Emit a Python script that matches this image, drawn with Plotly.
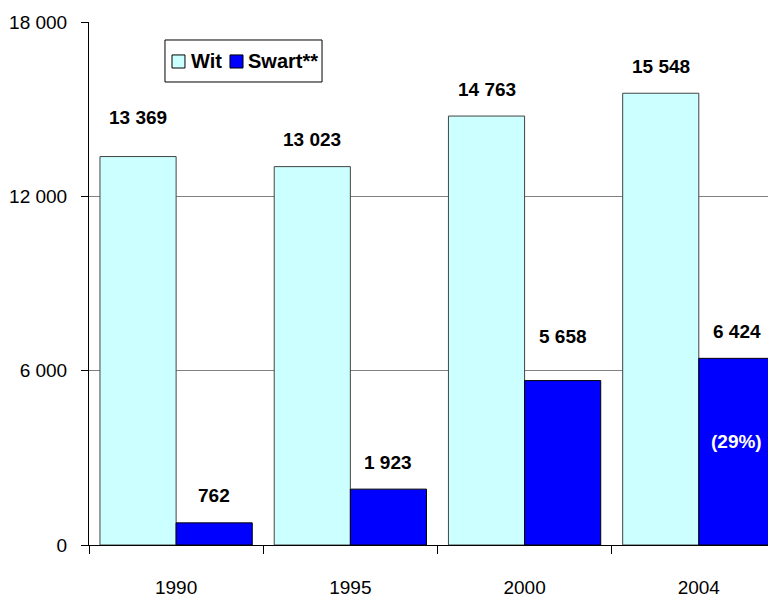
import plotly.graph_objects as go

years = ["1990", "1995", "2000", "2004"]
wit = [13369, 13023, 14763, 15548]
swart = [762, 1923, 5658, 6424]
wit_labels = ["13 369", "13 023", "14 763", "15 548"]
swart_labels = ["762", "1 923", "5 658", "6 424"]
share_note = "(29%)"
y_ticks = [0, 6000, 12000, 18000]
y_tick_labels = ["0", "6 000", "12 000", "18 000"]
series_names = ["Wit", "Swart**"]

FONT = "Liberation Sans, Arial, sans-serif"
BARGAP = 0.126
WIT_COLOR = "#CCFFFF"
SWART_COLOR = "#0000FF"
# extra lift (px) for the few labels that sit higher in the original
extra_lift = {(0, 0): 12, (1, 2): 17}

fig = go.Figure()
fig.add_trace(go.Bar(x=years, y=wit, name=series_names[0], showlegend=False,
                     marker=dict(color=WIT_COLOR, line=dict(color="#444444", width=1))))
fig.add_trace(go.Bar(x=years, y=swart, name=series_names[1], showlegend=False,
                     marker=dict(color=SWART_COLOR, line=dict(color="#000000", width=1))))

half = (1 - BARGAP) / 4
lab_font = dict(family=FONT, size=19, color="black", weight="bold")
leg_font = dict(family=FONT, size=20, color="black", weight="bold")
ann = []
for s, (vals, labs, sign) in enumerate([(wit, wit_labels, -1), (swart, swart_labels, 1)]):
    for i in range(len(years)):
        ann.append(dict(x=i + sign * half, y=vals[i], text=labs[i], showarrow=False,
                        yshift=27 + extra_lift.get((s, i), 0), xref="x", yref="y",
                        yanchor="middle", font=lab_font))
last = len(years) - 1
ann.append(dict(x=last + half, y=swart[last] / 2, text=share_note, showarrow=False,
                yshift=10, xref="x", yref="y",
                font=dict(family=FONT, size=19, color="white", weight="bold")))

# hand-drawn legend box (compact, like the original)
shapes = [
    dict(type="rect", xref="paper", yref="paper", x0=0.1106, x1=0.3392, y0=0.8853, y1=0.9656,
         line=dict(color="black", width=1), fillcolor="white", layer="above"),
    dict(type="rect", xref="paper", yref="paper", x0=0.1208, x1=0.1397, y0=0.912, y1=0.937,
         line=dict(color="black", width=1), fillcolor=WIT_COLOR, layer="above"),
    dict(type="rect", xref="paper", yref="paper", x0=0.2052, x1=0.2242, y0=0.912, y1=0.937,
         line=dict(color="black", width=1), fillcolor=SWART_COLOR, layer="above"),
]
ann.append(dict(x=0.1456, y=0.9245, xref="paper", yref="paper", text=series_names[0],
                showarrow=False, xanchor="left", yanchor="middle", font=leg_font))
ann.append(dict(x=0.2285, y=0.9245, xref="paper", yref="paper", text=series_names[1],
                showarrow=False, xanchor="left", yanchor="middle", font=leg_font))

fig.update_layout(
    width=768, height=591,
    margin=dict(l=81, r=0, t=14, b=54, autoexpand=False),
    paper_bgcolor="white", plot_bgcolor="white",
    barmode="group", bargap=BARGAP, bargroupgap=0,
    font=dict(family=FONT, size=19, color="black"),
    showlegend=False,
    annotations=ann, shapes=shapes,
)
fig.update_xaxes(type="category", range=[-0.5, 3.443], automargin=False,
                 showline=True, linecolor="black", linewidth=1,
                 ticks="outside", ticklen=8, tickcolor="black", tickson="boundaries",
                 ticklabelstandoff=25,
                 tickfont=dict(family=FONT, size=19, color="black"),
                 showgrid=False, zeroline=False)
fig.update_yaxes(range=[0, 18000], tickvals=y_ticks, ticktext=y_tick_labels, automargin=False,
                 showline=True, linecolor="black", linewidth=1,
                 ticks="outside", ticklen=7, tickcolor="black",
                 ticklabelstandoff=10,
                 tickfont=dict(family=FONT, size=19, color="black"),
                 showgrid=True, gridcolor="#808080", gridwidth=1, zeroline=False)

fig.write_html("out.html")
